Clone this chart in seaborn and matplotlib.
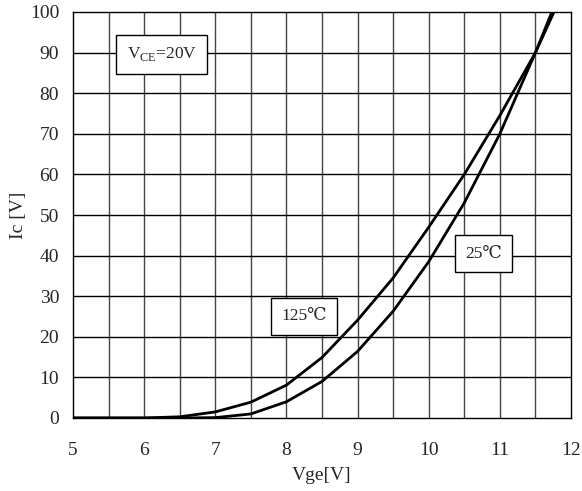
import numpy as np
import pandas as pd
import matplotlib
matplotlib.use("Agg")
import matplotlib.pyplot as plt
import seaborn as sns

# =============================
# DATA
# =============================
vge_25 = [5.0, 5.5, 6.0, 6.5, 7.0, 7.5, 8.0, 8.5, 9.0, 9.5, 10.0, 10.5, 11.0, 11.5, 11.8]
ic_25 = [0, 0, 0, 0, 0.1, 1.0, 4.0, 9.0, 16.4, 26.3, 38.5, 53.0, 70.0, 90.0, 103.0]

vge_125 = [5.0, 5.5, 6.0, 6.5, 7.0, 7.5, 8.0, 8.5, 9.0, 9.5, 10.0, 10.5, 11.0, 11.5, 11.8]
ic_125 = [0, 0, 0, 0.3, 1.5, 3.9, 8.1, 14.9, 24.1, 34.5, 47.0, 60.0, 74.5, 90.0, 101.5]

x_ticks = [5, 6, 7, 8, 9, 10, 11, 12]
y_ticks = [0, 10, 20, 30, 40, 50, 60, 70, 80, 90, 100]

df = pd.concat([
    pd.DataFrame({"Vge": vge_25, "Ic": ic_25, "T": "25"}),
    pd.DataFrame({"Vge": vge_125, "Ic": ic_125, "T": "125"}),
])

# =============================
# STYLE
# =============================
sns.set_style("white")
plt.rcParams["font.family"] = ["Liberation Serif", "DejaVu Serif"]

fig = plt.figure(figsize=(5.82, 4.91), dpi=100)
ax = fig.add_axes([73 / 582, 73 / 491, 498 / 582, 406 / 491])

# grid: vertical every 0.5, horizontal every 10
for xv in np.arange(5.5, 12, 0.5):
    ax.axvline(xv, color="#444444", lw=1.0, zorder=1)
for yv in y_ticks[1:-1]:
    ax.axhline(yv, color="black", lw=1.0, zorder=1)

sns.lineplot(data=df, x="Vge", y="Ic", hue="T", palette=["black", "black"],
             lw=2.0, legend=False, ax=ax, zorder=3, estimator=None, sort=False)

ax.set_xlim(5, 12)
ax.set_ylim(0, 100)
ax.set_xticks(x_ticks)
ax.set_yticks(y_ticks)
ax.tick_params(axis="x", labelsize=14, length=0, pad=17)
ax.tick_params(axis="y", labelsize=14, length=0, pad=10)
for s in ax.spines.values():
    s.set_color("black")
    s.set_linewidth(1.0)

ax.set_xlabel("Vge[V]", fontsize=14, labelpad=6)
ax.set_ylabel("Ic [V]", fontsize=14, labelpad=2)

box = dict(boxstyle="square,pad=0.6", fc="white", ec="black", lw=1.0)
ax.text(6.25, 89.6, "V$_{\\mathregular{CE}}$=20V", fontsize=12.5, ha="center", va="center", bbox=box, zorder=5)
ax.text(8.25, 25.1, "125℃", fontsize=12.5, ha="center", va="center", bbox=box, zorder=5)
ax.text(10.77, 40.5, "25℃", fontsize=12.5, ha="center", va="center", bbox=box, zorder=5)

fig.savefig("out.png", dpi=100)
